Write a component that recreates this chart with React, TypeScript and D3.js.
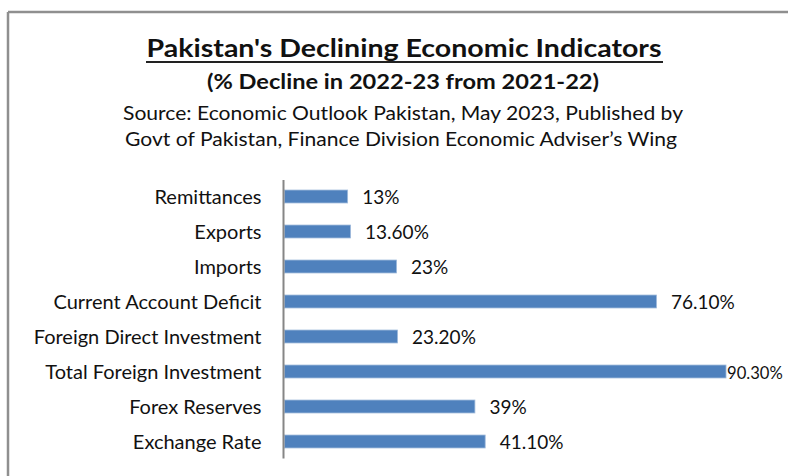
import React, { useLayoutEffect, useRef } from "react";
import * as d3 from "d3";

const categories = [
  "Remittances",
  "Exports",
  "Imports",
  "Current Account Deficit",
  "Foreign Direct Investment",
  "Total Foreign Investment",
  "Forex Reserves",
  "Exchange Rate",
];
const values = [13, 13.6, 23, 76.1, 23.2, 90.3, 39, 41.1];
const valueLabels = ["13%", "13.60%", "23%", "76.10%", "23.20%", "90.30%", "39%", "41.10%"];

const title = "Pakistan's Declining Economic Indicators";
const subtitle = "(% Decline in 2022-23 from 2021-22)";
const source1 = "Source: Economic Outlook Pakistan, May 2023, Published by";
const source2 = "Govt of Pakistan, Finance Division Economic Adviser\u2019s Wing";

const W = 788;
const H = 476;
const FONT = "Lato, 'Open Sans', sans-serif";
const VALUE_FS = 19;

export default function App() {
  const labelsRef = useRef<SVGGElement | null>(null);

  const x = d3.scaleLinear().domain([0, 100]).range([284, 773.5]);
  const y = d3
    .scaleBand<string>()
    .domain(categories)
    .range([179, 459])
    .paddingInner(0.63)
    .paddingOuter(0.315);

  const cx = 403;

  useLayoutEffect(() => {
    if (!labelsRef.current) return;
    d3.select(labelsRef.current)
      .selectAll<SVGTextElement, unknown>("text")
      .each(function (_, i) {
        const el = this as SVGTextElement;
        const end = x(values[i]);
        const len = el.getComputedTextLength();
        if (end + 14.5 + len > W) {
          const nx = end + 1;
          const sel = d3.select(el).attr("x", nx);
          const room = W - 5 - nx;
          if (len > room) {
            sel.attr("font-size", Math.floor((VALUE_FS * room) / len * 10) / 10);
          }
        }
      });
  });

  return (
    <svg
      width={W}
      height={H}
      style={{ position: "absolute", left: 0, top: 0, background: "#fff" }}
      fontFamily={FONT}
    >
      <rect x={0} y={0} width={W} height={H} fill="#fff" />
      {/* frame */}
      <line x1={8} y1={12} x2={W} y2={12} stroke="#8f8f8f" strokeWidth={2.5} />
      <line x1={8} y1={12} x2={8} y2={H} stroke="#8f8f8f" strokeWidth={2.5} />

      {/* titles */}
      <text
        x={cx + 1}
        y={57}
        textAnchor="middle"
        fontSize={25.5}
        fontWeight="bold"
        fill="#111"
        textLength={515}
        lengthAdjust="spacingAndGlyphs"
      >
        {title}
      </text>
      <line x1={146} y1={62} x2={663} y2={62} stroke="#222" strokeWidth={2} />
      <text
        x={cx}
        y={88.5}
        textAnchor="middle"
        fontSize={20}
        fontWeight="bold"
        fill="#111"
        textLength={392}
        lengthAdjust="spacingAndGlyphs"
      >
        {subtitle}
      </text>
      <text
        x={cx}
        y={119.5}
        textAnchor="middle"
        fontSize={18.5}
        fill="#111"
        textLength={560}
        lengthAdjust="spacingAndGlyphs"
      >
        {source1}
      </text>
      <text
        x={cx - 2}
        y={145.5}
        textAnchor="middle"
        fontSize={18.5}
        fill="#111"
        textLength={552}
        lengthAdjust="spacingAndGlyphs"
      >
        {source2}
      </text>

      {/* bars */}
      <g>
        {categories.map((c, i) => (
          <rect
            key={c}
            x={x(0) + 0.5}
            y={y(c)!}
            width={x(values[i]) - x(0) - 0.5}
            height={y.bandwidth()}
            fill="#4f81bd"
            stroke="#9fbadb"
            strokeWidth={0.8}
          />
        ))}
      </g>

      {/* axis line */}
      <line x1={283.5} y1={180} x2={283.5} y2={458.5} stroke="#868686" strokeWidth={2} />

      {/* category labels */}
      <g fontSize={20} fill="#111">
        {categories.map((c) => (
          <text key={c} x={261.5} y={y(c)! + y.bandwidth() / 2 + 7.5} textAnchor="end">
            {c}
          </text>
        ))}
      </g>

      {/* value labels */}
      <g ref={labelsRef} fontSize={VALUE_FS} fill="#111">
        {categories.map((c, i) => (
          <text key={c} x={x(values[i]) + 14.5} y={y(c)! + y.bandwidth() / 2 + 7.5}>
            {valueLabels[i]}
          </text>
        ))}
      </g>
    </svg>
  );
}
